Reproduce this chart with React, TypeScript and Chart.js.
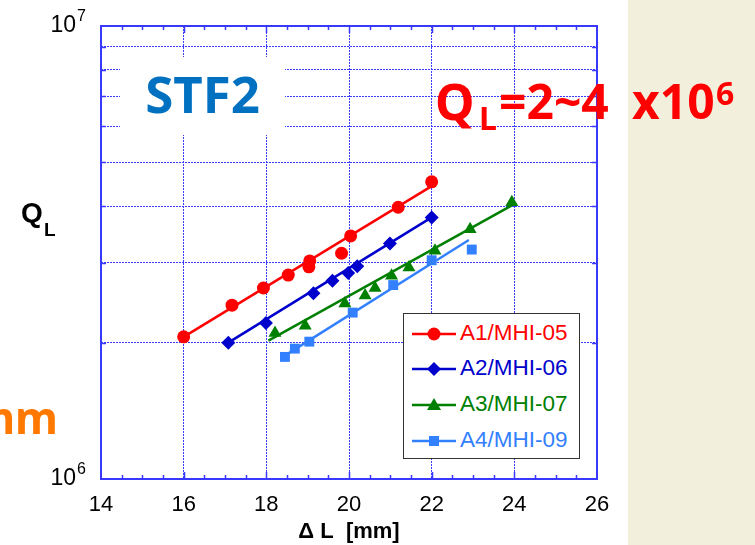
import React, { useEffect, useRef } from 'react';
import { Chart, registerables } from 'chart.js';

Chart.register(...registerables);

// ---- data ----
const a1X = [16.0, 17.17, 17.93, 18.53, 19.03, 19.05, 19.82, 20.04, 21.19, 22.0];
const a1Q = [2.06e6, 2.42e6, 2.64e6, 2.82e6, 2.94e6, 3.03e6, 3.15e6, 3.44e6, 3.98e6, 4.53e6];
const a1FitX = [16.0, 22.0];
const a1FitQ = [2.06e6, 4.43e6];

const a2X = [17.08, 17.99, 19.14, 19.6, 19.98, 20.2, 20.99, 22.0];
const a2Q = [2.0e6, 2.21e6, 2.57e6, 2.74e6, 2.85e6, 2.95e6, 3.31e6, 3.78e6];
const a2FitX = [17.08, 22.0];
const a2FitQ = [2.0e6, 3.78e6];

const a3X = [18.21, 18.94, 19.9, 20.39, 20.63, 21.03, 21.45, 22.08, 22.93, 23.94];
const a3Q = [2.1e6, 2.18e6, 2.44e6, 2.54e6, 2.64e6, 2.81e6, 2.93e6, 3.19e6, 3.56e6, 4.08e6];
const a3FitX = [18.05, 23.94];
const a3FitQ = [2.02e6, 4.02e6];

const a4X = [18.45, 18.69, 19.04, 20.09, 21.07, 22.0, 22.97];
const a4Q = [1.86e6, 1.94e6, 2.01e6, 2.33e6, 2.68e6, 3.04e6, 3.21e6];
const a4FitX = [18.4, 22.9];
const a4FitQ = [1.86e6, 3.37e6];

const seriesNames = ['A1/MHI-05', 'A2/MHI-06', 'A3/MHI-07', 'A4/MHI-09'];
const seriesColors = ['#ff0000', '#0000cc', '#008000', '#3380ff'];
const seriesMarkers = ['circle', 'rectRot', 'triangle', 'rect'];
const markerRadius = [6.5, 7, 7.5, 7];

const xMin = 14;
const xMax = 26;
const xStep = 2;
const xMinorStep = 0.5;
const yMin = 1e6;
const yMax = 1e7;
const yGridValues = [1e6, 2e6, 3e6, 4e6, 5e6, 6e6, 7e6, 8e6, 9e6, 1e7];
const yLabelValues = [1e6, 1e7];
const yLabelBase = ['10', '10'];
const yLabelExp = ['6', '7'];

const FRAME = '#3838ff';
const GRID = '#3c3cff';

const toPts = (xs: number[], ys: number[]) => xs.map((x, i) => ({ x, y: ys[i] }));

const framePlugin = {
  id: 'frameTicks',
  beforeDatasetsDraw(chart: any) {
    const { ctx, chartArea } = chart;
    const { left, right, top, bottom } = chartArea;
    const xs = chart.scales.x;
    const ys = chart.scales.y;
    ctx.save();
    ctx.strokeStyle = FRAME;
    ctx.lineWidth = 1.5;
    ctx.setLineDash([]);
    ctx.beginPath();
    for (let v = xMin + xMinorStep; v < xMax; v += xMinorStep) {
      const px = Math.round(xs.getPixelForValue(v)) + 0.5;
      const len = Math.abs(v % xStep) < 1e-6 ? 7 : 4;
      ctx.moveTo(px, bottom);
      ctx.lineTo(px, bottom - len);
      ctx.moveTo(px, top);
      ctx.lineTo(px, top + len);
    }
    for (const v of yGridValues) {
      if (v === yMin || v === yMax) continue;
      const py = Math.round(ys.getPixelForValue(v)) + 0.5;
      ctx.moveTo(left, py);
      ctx.lineTo(left + 5, py);
      ctx.moveTo(right, py);
      ctx.lineTo(right - 5, py);
    }
    ctx.stroke();
    ctx.lineWidth = 2;
    ctx.strokeRect(left, top, right - left, bottom - top);
    ctx.restore();
  },
  afterDraw(chart: any) {
    const { ctx } = chart;
    const ys = chart.scales.y;
    ctx.save();
    ctx.fillStyle = '#000';
    yLabelValues.forEach((v, i) => {
      const py = ys.getPixelForValue(v);
      const base = py + 5.5;
      ctx.font = '23px "Liberation Sans"';
      ctx.textAlign = 'right';
      ctx.textBaseline = 'alphabetic';
      ctx.fillText(yLabelBase[i], 76, base);
      ctx.font = '16px "Liberation Sans"';
      ctx.textAlign = 'left';
      ctx.fillText(yLabelExp[i], 77, base - 11);
    });
    ctx.restore();
  },
};

function LegendMarker({ idx }: { idx: number }) {
  const c = seriesColors[idx];
  const m = seriesMarkers[idx];
  let shape: any = null;
  if (m === 'circle') shape = <circle cx={22} cy={10} r={6.5} fill={c} />;
  if (m === 'rectRot') shape = <polygon points="22,3 29,10 22,17 15,10" fill={c} />;
  if (m === 'triangle') shape = <polygon points="22,3 29,15 15,15" fill={c} />;
  if (m === 'rect') shape = <rect x={17} y={5} width={10} height={10} fill={c} />;
  return (
    <svg width={46} height={20} style={{ position: 'absolute', left: 8, top: -10 }}>
      <line x1={0} y1={10} x2={44} y2={10} stroke={c} strokeWidth={2.5} />
      {shape}
    </svg>
  );
}

export default function App() {
  const canvasRef = useRef<HTMLCanvasElement | null>(null);

  useEffect(() => {
    const canvas = canvasRef.current;
    if (!canvas) return;
    const xsAll = [a1X, a2X, a3X, a4X];
    const qsAll = [a1Q, a2Q, a3Q, a4Q];
    const fxAll = [a1FitX, a2FitX, a3FitX, a4FitX];
    const fqAll = [a1FitQ, a2FitQ, a3FitQ, a4FitQ];
    const datasets: any[] = [];
    for (let i = 0; i < 4; i++) {
      datasets.push({
        type: 'line',
        label: seriesNames[i] + ' fit',
        data: toPts(fxAll[i], fqAll[i]),
        borderColor: seriesColors[i],
        borderWidth: 2.5,
        pointRadius: 0,
        fill: false,
        order: 10,
      });
      datasets.push({
        type: 'scatter',
        label: seriesNames[i],
        data: toPts(xsAll[i], qsAll[i]),
        backgroundColor: seriesColors[i],
        borderColor: seriesColors[i],
        borderWidth: 0,
        pointStyle: seriesMarkers[i],
        pointRadius: markerRadius[i],
        showLine: false,
        order: 1,
      });
    }
    const chart = new Chart(canvas, {
      type: 'scatter',
      data: { datasets },
      options: {
        animation: false,
        responsive: false,
        layout: { padding: { left: 0, right: 158, top: 26, bottom: 0 } },
        plugins: { legend: { display: false }, tooltip: { enabled: false } },
        scales: {
          x: {
            type: 'linear',
            min: xMin,
            max: xMax,
            afterFit: (s: any) => {
              s.height = 66;
            },
            ticks: {
              stepSize: xStep,
              color: '#000',
              font: { family: 'Liberation Sans', size: 22 },
              padding: 13,
            },
            grid: { color: GRID, lineWidth: 1, drawTicks: false },
            border: { display: false, dash: [2, 1] },
            title: {
              display: true,
              text: 'Δ L  [mm]',
              color: '#000',
              font: { family: 'Liberation Sans', size: 22, weight: 'bold' },
              padding: { top: 0, bottom: 0 },
            },
          },
          y: {
            type: 'logarithmic',
            min: yMin,
            max: yMax,
            afterFit: (s: any) => {
              s.width = 101;
            },
            afterBuildTicks: (s: any) => {
              s.ticks = yGridValues.map((value) => ({ value }));
            },
            ticks: { display: false, autoSkip: false },
            grid: { color: GRID, lineWidth: 1, drawTicks: false },
            border: { display: false, dash: [2, 1] },
          },
        },
      } as any,
      plugins: [framePlugin],
    });
    return () => chart.destroy();
  }, []);

  const noto = '"Noto Sans", sans-serif';
  const red = '#ff0000';
  const legendRows = [19.7, 55.3, 91, 127];

  return (
    <div
      style={{
        position: 'absolute',
        left: 0,
        top: 0,
        width: 755,
        height: 545,
        overflow: 'hidden',
        background: '#ffffff',
      }}
    >
      <canvas
        ref={canvasRef}
        width={755}
        height={545}
        style={{ position: 'absolute', left: 0, top: 0, width: 755, height: 545 }}
      />
      {/* beige side panel */}
      <div
        style={{
          position: 'absolute',
          left: 628,
          top: 0,
          width: 127,
          height: 545,
          background: '#f2f0dc',
        }}
      />
      {/* STF2 label box */}
      <div
        style={{
          position: 'absolute',
          left: 120,
          top: 57,
          width: 165,
          height: 78,
          background: '#ffffff',
        }}
      >
        <div
          style={{
            position: 'absolute',
            left: 0,
            top: 11,
            width: 165,
            textAlign: 'center',
            fontFamily: noto,
            fontWeight: 700,
            fontSize: 51,
            lineHeight: '51px',
            color: '#0070c0',
            whiteSpace: 'nowrap',
          }}
        >
          STF2
        </div>
      </div>
      {/* Y-axis title */}
      <span
        style={{
          position: 'absolute',
          left: 21,
          top: 199,
          fontFamily: 'Liberation Sans',
          fontWeight: 700,
          fontSize: 28,
          lineHeight: '28px',
          color: '#000',
        }}
      >
        Q
      </span>
      <span
        style={{
          position: 'absolute',
          left: 44,
          top: 220,
          fontFamily: 'Liberation Sans',
          fontWeight: 700,
          fontSize: 19,
          lineHeight: '19px',
          color: '#000',
        }}
      >
        L
      </span>
      {/* Red annotation */}
      <span style={{ position: 'absolute', left: 435, top: 77, fontFamily: noto, fontWeight: 700, fontSize: 50, lineHeight: '48px', color: red, whiteSpace: 'nowrap' }}>
        Q
      </span>
      <span style={{ position: 'absolute', left: 479, top: 102, fontFamily: noto, fontWeight: 700, fontSize: 32, lineHeight: '32px', color: red, whiteSpace: 'nowrap' }}>
        L
      </span>
      <span style={{ position: 'absolute', left: 499, top: 77, fontFamily: noto, fontWeight: 700, fontSize: 48, lineHeight: '48px', color: red, whiteSpace: 'nowrap' }}>
        =2~4
      </span>
      <span style={{ position: 'absolute', left: 632, top: 77, fontFamily: noto, fontWeight: 700, fontSize: 48, lineHeight: '48px', color: red, whiteSpace: 'nowrap' }}>
        x10
      </span>
      <span style={{ position: 'absolute', left: 716, top: 77, fontFamily: noto, fontWeight: 700, fontSize: 32, lineHeight: '32px', color: red, whiteSpace: 'nowrap' }}>
        6
      </span>
      {/* Orange cut-off text on the left */}
      <span
        style={{
          position: 'absolute',
          right: 697,
          top: 395,
          fontFamily: noto,
          fontWeight: 700,
          fontSize: 44,
          lineHeight: '44px',
          color: '#ff7800',
          whiteSpace: 'nowrap',
        }}
      >
        mm
      </span>
      {/* Legend */}
      <div
        style={{
          position: 'absolute',
          left: 403,
          top: 313,
          width: 177,
          height: 146,
          boxSizing: 'border-box',
          border: '1.5px solid #333333',
          background: '#ffffff',
        }}
      >
        {seriesNames.map((name, i) => (
          <div key={name} style={{ position: 'absolute', left: 0, top: legendRows[i], width: 170, height: 0 }}>
            <LegendMarker idx={i} />
            <span
              style={{
                position: 'absolute',
                left: 56,
                top: -12,
                fontFamily: 'Liberation Sans',
                fontSize: 22.5,
                lineHeight: '22px',
                color: seriesColors[i],
                whiteSpace: 'nowrap',
              }}
            >
              {name}
            </span>
          </div>
        ))}
      </div>
    </div>
  );
}
